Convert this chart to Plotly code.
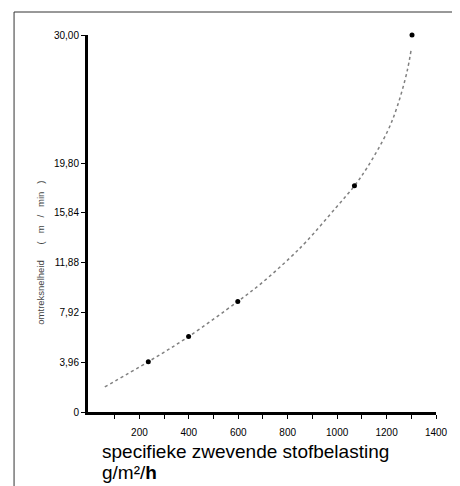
import plotly.graph_objects as go

# Measured points (specifieke zwevende stofbelasting vs omtreksnelheid)
point_x = [236, 399, 598, 1070, 1303]
point_y = [4.0, 6.0, 8.8, 18.0, 30.0]

# Fitted curve
curve_x = [60, 236, 399, 598, 691, 811, 877, 997, 1070, 1123, 1203, 1243, 1283, 1300]
curve_y = [2.0, 4.0, 6.0, 8.8, 10.2, 12.3, 13.6, 16.3, 18.0, 19.5, 22.3, 24.3, 27.1, 28.9]

y_tickvals = [0, 3.96, 7.92, 11.88, 15.84, 19.80, 30.00]
y_ticktext = ["0", "3,96", "7,92", "11,88", "15,84", "19,80", "30,00"]
x_tickvals = [100, 200, 300, 400, 500, 600, 700, 800, 900, 1000, 1100, 1200, 1300, 1400]
x_ticktext = ["", "200", "", "400", "", "600", "", "800", "", "1000", "", "1200", "", "1400"]

# page body has an 8px margin, so the figure is drawn 8px in from the window corner
OFF = 8
W, H = 460 - OFF, 486 - OFF
L, R, T, B = 88 - OFF, 19, 35 - OFF, H - (412 - OFF)
pw = W - L - R
ph = H - T - B

def px(p):
    return (p - OFF - L) / pw

def py(p):
    return (H - B - (p - OFF)) / ph

narrow = "Liberation Sans Narrow, Liberation Sans, Arial, sans-serif"
sans = "Liberation Sans, Arial, sans-serif"
nb = "\u00a0"

fig = go.Figure()
fig.add_trace(go.Scatter(x=curve_x, y=curve_y, mode="lines",
                         line=dict(color="#808080", width=1.5, dash="dot", shape="spline"),
                         hoverinfo="skip", cliponaxis=False))
fig.add_trace(go.Scatter(x=point_x, y=point_y, mode="markers",
                         marker=dict(color="black", size=5), cliponaxis=False))

ytitle = "omtreksnelheid" + nb * 6 + "(" + nb * 3 + "m" + nb * 3 + "/" + nb * 3 + "min" + nb * 3 + ")"

fig.update_layout(
    width=W, height=H,
    margin=dict(l=L, r=R, t=T, b=B),
    paper_bgcolor="white", plot_bgcolor="white",
    showlegend=False,
    xaxis=dict(range=[-8, 1400], showgrid=False, zeroline=False,
               showline=True, linecolor="black", linewidth=3,
               ticks="outside", ticklen=4, tickwidth=1, tickcolor="black",
               tickvals=x_tickvals, ticktext=x_ticktext,
               ticklabelstandoff=5,
               tickfont=dict(family=narrow, size=10, color="black")),
    yaxis=dict(range=[0, 30], showgrid=False, zeroline=False,
               showline=True, linecolor="black", linewidth=3,
               ticks="outside", ticklen=4, tickwidth=1, tickcolor="black",
               tickvals=y_tickvals, ticktext=y_ticktext,
               tickfont=dict(family=narrow, size=10, color="black")),
    annotations=[
        dict(text=ytitle, textangle=-90,
             xref="paper", yref="paper", x=px(39), y=py(253),
             xanchor="center", yanchor="middle", showarrow=False,
             font=dict(family=sans, size=9.5, color="#444444")),
        dict(text="specifieke zwevende stofbelasting",
             xref="paper", yref="paper", x=px(100), y=py(452),
             xanchor="left", yanchor="middle", align="left", showarrow=False,
             font=dict(family=sans, size=19, color="black")),
        dict(text="g/m²/<b>h</b>",
             xref="paper", yref="paper", x=px(100), y=py(472),
             xanchor="left", yanchor="middle", align="left", showarrow=False,
             font=dict(family=sans, size=19, color="black")),
    ],
    shapes=[
        dict(type="line", xref="paper", yref="paper",
             x0=px(13), x1=px(460), y0=py(12), y1=py(12),
             line=dict(color="#333333", width=1)),
        dict(type="line", xref="paper", yref="paper",
             x0=px(13), x1=px(13), y0=py(12), y1=py(486),
             line=dict(color="#333333", width=1)),
    ],
)

fig.write_html("out.html")
